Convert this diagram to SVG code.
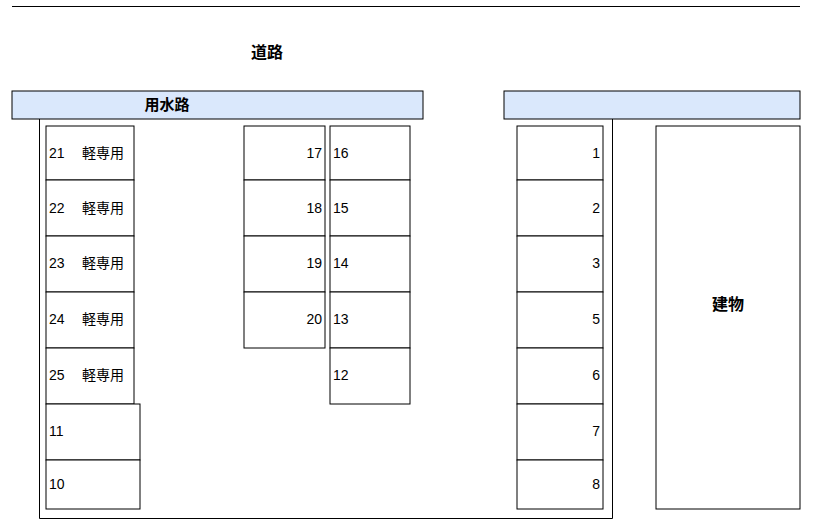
<svg xmlns="http://www.w3.org/2000/svg" width="822" height="527" viewBox="0 0 822 527">
<style>
.s{fill:#fff;stroke:#000;stroke-width:1}
.b{fill:#dae8fc;stroke:#000;stroke-width:1}
text{font-family:"Liberation Sans","Noto Sans CJK JP",sans-serif;font-size:14px;fill:#000;dominant-baseline:central}
.h{font-size:16px;font-weight:bold;text-anchor:middle}
.r{text-anchor:end}
</style>
<rect width="822" height="527" fill="#fff"/>
<line x1="12" y1="6.5" x2="800" y2="6.5" stroke="#000"/>
<text class="h" x="267" y="52">道路</text>
<rect class="b" x="12" y="91" width="411" height="28"/>
<text class="h" x="167" y="104" style="font-size:15px">用水路</text>
<rect class="b" x="504" y="91" width="296" height="28"/>
<path d="M39.5 119V518.5H612.5V119" fill="none" stroke="#000"/>
<g id="left">
<rect class="s" x="46" y="126" width="88" height="54"/><text x="49" y="153">21</text><text x="82" y="153">軽専用</text>
<rect class="s" x="46" y="180" width="88" height="56"/><text x="49" y="208">22</text><text x="82" y="208">軽専用</text>
<rect class="s" x="46" y="236" width="88" height="56"/><text x="49" y="263">23</text><text x="82" y="263">軽専用</text>
<rect class="s" x="46" y="292" width="88" height="56"/><text x="49" y="319">24</text><text x="82" y="319">軽専用</text>
<rect class="s" x="46" y="348" width="88" height="56"/><text x="49" y="375">25</text><text x="82" y="375">軽専用</text>
<rect class="s" x="46" y="404" width="94" height="56"/><text x="49" y="431">11</text>
<rect class="s" x="46" y="460" width="94" height="49"/><text x="49" y="484">10</text>
</g>
<g id="mid">
<rect class="s" x="244" y="126" width="81" height="54"/><text class="r" x="322" y="153">17</text>
<rect class="s" x="244" y="180" width="81" height="56"/><text class="r" x="322" y="208">18</text>
<rect class="s" x="244" y="236" width="81" height="56"/><text class="r" x="322" y="263">19</text>
<rect class="s" x="244" y="292" width="81" height="56"/><text class="r" x="322" y="319">20</text>
<rect class="s" x="330" y="126" width="80" height="54"/><text x="333" y="153">16</text>
<rect class="s" x="330" y="180" width="80" height="56"/><text x="333" y="208">15</text>
<rect class="s" x="330" y="236" width="80" height="56"/><text x="333" y="263">14</text>
<rect class="s" x="330" y="292" width="80" height="56"/><text x="333" y="319">13</text>
<rect class="s" x="330" y="348" width="80" height="56"/><text x="333" y="375">12</text>
</g>
<g id="right">
<rect class="s" x="517" y="126" width="86" height="54"/><text class="r" x="600" y="153">1</text>
<rect class="s" x="517" y="180" width="86" height="56"/><text class="r" x="600" y="208">2</text>
<rect class="s" x="517" y="236" width="86" height="56"/><text class="r" x="600" y="263">3</text>
<rect class="s" x="517" y="292" width="86" height="56"/><text class="r" x="600" y="319">5</text>
<rect class="s" x="517" y="348" width="86" height="56"/><text class="r" x="600" y="375">6</text>
<rect class="s" x="517" y="404" width="86" height="56"/><text class="r" x="600" y="431">7</text>
<rect class="s" x="517" y="460" width="86" height="49"/><text class="r" x="600" y="484">8</text>
</g>
<g id="building">
<rect class="s" x="656" y="126" width="144" height="383"/>
<text class="h" x="728" y="304">建物</text>
</g>
</svg>
